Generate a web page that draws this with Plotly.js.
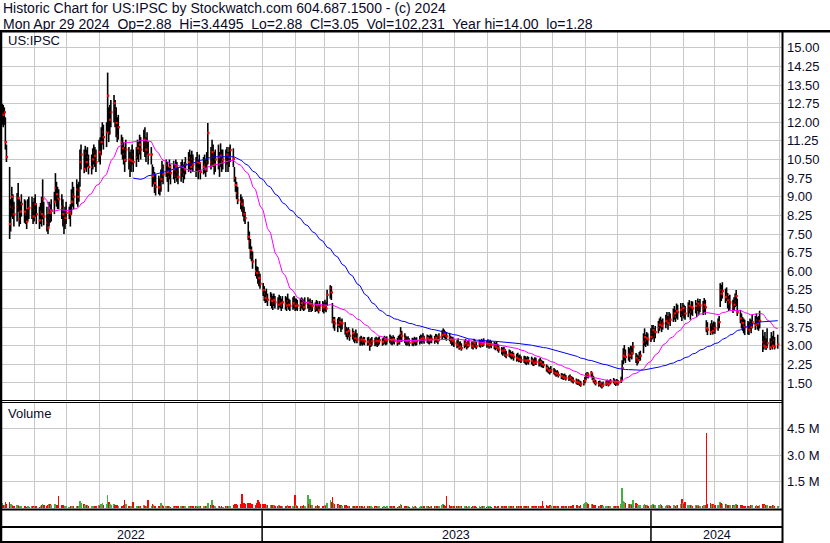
<!DOCTYPE html>
<html><head><meta charset="utf-8">
<script src="https://cdn.plot.ly/plotly-3.0.1.min.js"></script>
<style>html,body{margin:0;padding:0;background:#fff;}#chart{width:830px;height:543px;}</style>
</head><body><div id="chart"></div>
<script>
// ---------------- DATA (daily, weekdays from 2022-05-02, one row per week) ----------------
const firstDay = '2022-05-02';
const closes = [
12.35,12.30,12.40,11.20,10.60, 7.90,8.60,9.00,8.55,8.30, 8.60,8.95,8.10,8.40,8.70, 8.40,8.30,8.00,8.50,8.55,
8.60,8.20,8.45,8.70,8.30, 8.05,8.40,8.30,8.90,8.20, 7.95,7.75,8.40,8.35,8.45, 8.80,9.35,9.10,8.95,8.90,
8.60,8.30,8.00,8.15,8.35, 8.35,8.30,8.80,9.10,9.00, 9.30,9.00,9.25,10.40,10.70, 10.12,10.75,10.40,10.60,10.20,
10.20,10.50,10.80,10.65,10.40, 10.80,10.70,11.20,11.60,11.40, 11.60,13.07,11.60,12.10,12.40, 12.77,12.50,11.97,11.45,11.80,
11.20,10.95,10.72,10.48,10.90, 10.50,10.30,10.45,10.70,10.40, 10.60,10.95,10.80,11.10,10.90, 11.30,11.10,10.90,11.20,10.70,
10.70,9.84,9.90,9.55,9.40, 9.38,9.33,9.70,10.20,9.90, 10.28,10.00,9.80,10.20,9.95, 10.10,9.85,10.20,10.00,9.80,
10.00,10.20,9.90,10.10,10.30, 10.40,10.56,10.20,10.50,10.30, 10.16,10.40,10.10,10.36,10.00, 10.20,10.30,10.10,10.40,11.57,
10.40,10.80,10.70,10.30,10.50, 10.60,10.30,10.65,10.40,10.50, 10.45,10.70,10.35,10.60,10.88, 10.53,9.76,9.47,9.14,8.87,
8.80,8.70,8.47,8.30,8.14, 7.39,7.20,6.85,6.60,6.39, 6.00,5.93,5.80,5.73,5.50, 5.24,5.10,4.92,5.00,4.85,
4.90,4.80,4.70,4.85,4.75, 4.65,4.80,4.70,4.60,4.75, 4.70,4.62,4.80,4.65,4.60, 4.70,4.75,4.60,4.68,4.62,
4.60,4.72,4.65,4.55,4.70, 4.75,4.55,4.68,4.50,4.60, 4.50,4.63,4.55,4.44,4.60, 4.55,4.48,4.60,4.50,5.05,
5.32,5.15,3.95,4.04,3.90, 3.84,4.00,3.95,3.85,3.90, 3.70,3.55,3.45,3.60,3.40, 3.50,3.35,3.30,3.45,3.25,
3.20,3.25,3.15,3.23,3.18, 3.16,3.20,3.05,3.12,3.18, 3.15,3.20,3.12,3.18,3.22, 3.15,3.20,3.25,3.18,3.22,
3.30,3.22,3.18,3.26,3.20, 3.15,3.25,3.20,3.51,3.40, 3.30,3.20,3.15,3.22,3.12, 3.15,3.12,3.20,3.15,3.18,
3.22,3.28,3.25,3.32,3.24, 3.30,3.25,3.22,3.30,3.26, 3.24,3.32,3.28,3.22,3.35, 3.43,3.55,3.48,3.40,3.38,
3.35,3.25,3.15,3.20,3.10, 3.05,3.12,2.95,3.00,2.90, 3.05,3.10,2.98,3.02,3.08, 3.00,2.95,3.10,3.05,2.98,
3.10,3.05,3.12,3.08,3.15, 3.06,3.10,3.02,3.08,3.04, 3.00,2.95,3.02,2.90,2.85, 2.80,2.75,2.82,2.70,2.62,
2.70,2.65,2.58,2.62,2.55, 2.50,2.55,2.45,2.48,2.42, 2.45,2.40,2.35,2.42,2.38, 2.40,2.33,2.30,2.38,2.35,
2.30,2.35,2.28,2.25,2.22, 2.10,2.05,2.00,1.95,2.02, 1.95,1.90,1.85,1.88,1.82, 1.78,1.75,1.72,1.76,1.70,
1.68,1.72,1.66,1.62,1.58, 1.55,1.50,1.52,1.48,1.45, 1.50,1.60,1.75,1.85,1.80, 1.90,1.75,1.62,1.55,1.50,
1.45,1.48,1.42,1.38,1.44, 1.48,1.52,1.46,1.50,1.55, 1.58,1.52,1.48,1.55,1.50, 1.60,2.10,2.60,2.74,2.55,
2.65,2.60,2.80,2.70,2.95, 2.50,2.35,2.42,2.55,2.60, 3.15,3.35,3.20,3.30,3.25, 3.35,3.50,3.63,3.40,3.55,
3.72,3.85,3.96,3.80,3.90, 4.00,4.10,3.92,4.17,4.05, 4.20,4.30,4.16,4.40,4.35, 4.45,4.25,4.52,4.38,4.30,
4.45,4.60,4.37,4.55,4.50, 4.60,4.45,4.70,4.55,4.62, 4.50,4.65,4.55,3.70,3.65, 3.55,3.83,3.60,3.75,3.70,
3.80,3.95,5.24,5.10,5.20, 4.96,5.05,4.84,4.70,4.75, 4.56,4.65,4.80,5.00,4.35, 4.10,3.95,3.91,3.80,3.75,
3.70,3.64,3.85,3.75,3.95, 3.83,4.03,3.90,3.85,4.00, 3.14,3.00,3.20,2.95,3.10, 2.93,3.15,3.00,3.23,2.95,
3.05];
const highs = [
12.75,12.70,12.60,12.20,11.10, 10.20,8.90,9.40,9.10,8.80, 9.15,9.55,8.90,8.80,9.10, 8.90,8.85,8.50,8.90,9.00,
9.00,8.80,8.95,9.10,8.75, 8.60,8.75,9.00,9.70,8.80, 8.60,8.30,8.80,8.70,8.90, 9.20,9.95,9.60,9.40,9.30,
9.10,8.90,8.50,8.60,8.80, 8.60,8.70,9.30,9.60,9.40, 9.70,9.50,9.60,10.90,11.10, 10.90,11.05,10.90,11.00,10.70,
10.70,10.95,11.10,11.00,10.90, 11.30,11.40,11.80,12.00,11.90, 12.00,14.00,12.60,12.70,12.90, 13.10,12.90,12.60,12.20,12.30,
11.50,11.40,11.20,11.00,11.30, 11.00,10.80,10.90,11.10,10.90, 11.00,11.30,11.20,11.50,11.40, 11.70,11.80,11.40,11.60,11.20,
11.00,10.30,10.20,10.00,9.90, 9.85,9.75,10.10,10.45,10.30, 10.50,10.40,10.20,10.50,10.30, 10.45,10.30,10.50,10.40,10.20,
10.40,10.50,10.30,10.40,10.60, 10.80,10.90,10.70,10.85,10.70, 10.60,10.80,10.50,10.70,10.40, 10.60,10.70,10.50,10.80,11.97,
11.00,11.30,11.10,10.80,10.90, 11.10,10.80,11.15,10.90,10.90, 10.90,11.00,10.80,11.00,11.10, 10.95,10.20,9.80,9.60,9.40,
9.10,9.00,8.90,8.60,8.40, 8.00,7.60,7.30,7.00,6.80, 6.50,6.20,6.17,6.00,5.90, 5.53,5.40,5.20,5.30,5.10,
5.16,5.10,5.00,5.10,5.00, 4.95,5.05,5.00,4.90,5.00, 5.00,4.95,5.10,4.90,4.85, 4.95,5.00,4.90,4.90,4.85,
4.90,4.95,4.90,4.85,4.95, 4.95,4.85,4.90,4.75,4.84, 4.75,4.84,4.80,4.70,4.80, 4.80,4.75,4.85,4.75,5.25,
5.44,5.40,4.72,4.16,4.16, 4.10,4.16,4.15,4.05,4.10, 3.95,3.76,3.70,3.75,3.65, 3.70,3.60,3.50,3.65,3.50,
3.36,3.40,3.30,3.36,3.35, 3.34,3.36,3.25,3.30,3.35, 3.32,3.36,3.30,3.34,3.38, 3.30,3.36,3.40,3.35,3.38,
3.45,3.40,3.35,3.42,3.36, 3.32,3.40,3.45,3.75,3.60, 3.50,3.40,3.35,3.38,3.30, 3.32,3.30,3.36,3.32,3.34,
3.40,3.45,3.42,3.50,3.40, 3.45,3.42,3.40,3.46,3.42, 3.40,3.48,3.45,3.38,3.50, 3.62,3.70,3.65,3.58,3.55,
3.52,3.40,3.35,3.36,3.28, 3.22,3.30,3.15,3.18,3.10, 3.22,3.28,3.15,3.20,3.25, 3.18,3.12,3.28,3.22,3.15,
3.25,3.22,3.28,3.24,3.30, 3.22,3.26,3.18,3.24,3.20, 3.16,3.12,3.18,3.08,3.02, 2.95,2.92,2.96,2.88,2.80,
2.85,2.82,2.75,2.78,2.72, 2.68,2.72,2.62,2.65,2.58, 2.60,2.58,2.52,2.58,2.55, 2.56,2.50,2.46,2.54,2.52,
2.46,2.52,2.44,2.40,2.38, 2.25,2.20,2.15,2.10,2.18, 2.10,2.05,1.98,2.02,1.96, 1.90,1.88,1.85,1.88,1.82,
1.80,1.84,1.78,1.75,1.72, 1.68,1.64,1.65,1.60,1.58, 1.62,1.75,1.90,1.94,1.92, 1.98,1.92,1.78,1.68,1.62,
1.58,1.60,1.55,1.50,1.56, 1.60,1.64,1.58,1.62,1.66, 1.70,1.65,1.60,1.66,1.62, 1.75,2.42,2.90,3.03,2.85,
2.95,2.90,3.00,2.98,3.15, 2.71,2.65,2.60,2.75,2.80, 3.50,3.70,3.45,3.55,3.50, 3.70,3.84,3.84,3.70,3.80,
4.00,4.10,4.17,4.05,4.10, 4.25,4.36,4.20,4.36,4.30, 4.50,4.60,4.45,4.70,4.65, 4.72,4.55,4.72,4.65,4.60,
4.75,4.84,4.65,4.80,4.78, 4.84,4.72,4.90,4.80,4.88, 4.80,4.92,4.85,4.03,3.95, 3.90,4.03,3.90,3.98,3.95,
4.10,4.20,5.52,5.45,5.56, 5.30,5.35,5.12,5.00,5.05, 4.85,4.95,5.10,5.24,4.90, 4.44,4.30,4.16,4.10,4.05,
4.00,3.95,4.10,4.05,4.25, 4.20,4.30,4.15,4.20,4.41, 3.64,3.40,3.55,3.30,3.70, 3.30,3.55,3.40,3.60,3.35,
3.4495];
const lows = [
11.90,11.80,11.90,10.90,10.40, 7.30,7.60,8.20,8.10,7.80, 8.00,8.40,7.80,7.90,8.20, 7.95,7.90,7.70,8.00,8.10,
8.10,7.90,8.00,8.20,7.90, 7.70,7.90,7.80,8.10,7.85, 7.60,7.50,7.80,7.95,8.00, 8.30,8.80,8.60,8.50,8.50,
8.10,7.80,7.50,7.70,7.90, 8.10,7.80,8.30,8.60,8.50, 8.70,8.60,8.80,9.40,10.10, 9.95,10.10,10.00,10.20,9.90,
9.90,10.10,10.30,10.20,10.00, 10.40,10.30,10.70,11.10,10.90, 11.00,11.60,11.20,11.50,11.80, 12.00,11.80,11.40,11.20,11.30,
10.70,10.50,10.30,10.00,10.40, 10.10,9.80,10.00,10.30,10.00, 10.20,10.50,10.40,10.70,10.50, 10.80,10.60,10.40,10.70,10.30,
10.30,9.40,9.50,9.15,9.05, 9.10,9.05,9.20,9.60,9.50, 9.80,9.60,9.20,9.70,9.50, 9.70,9.55,9.75,9.60,9.50,
9.60,9.80,9.55,9.70,9.90, 10.00,10.10,9.95,10.10,10.00, 9.80,10.00,9.70,10.00,9.70, 9.90,9.95,9.80,10.00,10.30,
10.10,10.30,10.20,9.90,10.00, 10.10,9.80,10.20,10.00,10.10, 10.00,10.30,10.00,10.20,10.40, 10.20,9.60,9.20,8.90,8.70,
8.50,8.40,8.20,8.00,7.90, 7.26,6.90,6.50,6.40,6.10, 5.80,5.70,5.50,5.40,5.30, 5.00,4.80,4.72,4.75,4.60,
4.60,4.50,4.44,4.60,4.50, 4.45,4.55,4.50,4.40,4.50, 4.45,4.40,4.55,4.45,4.40, 4.45,4.50,4.40,4.45,4.40,
4.40,4.50,4.45,4.40,4.45, 4.50,4.36,4.45,4.36,4.40, 4.36,4.40,4.38,4.30,4.40, 4.35,4.30,4.40,4.35,4.60,
4.90,4.84,3.91,3.70,3.60, 3.55,3.75,3.70,3.55,3.65, 3.45,3.35,3.25,3.35,3.20, 3.25,3.16,3.10,3.20,3.10,
3.00,3.05,3.00,3.05,3.02, 3.00,3.02,2.80,2.95,3.00, 2.98,3.02,2.95,3.00,3.05, 3.00,3.04,3.08,3.02,3.05,
3.10,3.05,3.02,3.08,3.05, 3.00,3.05,3.05,3.20,3.15, 3.10,3.02,3.00,3.05,2.98, 3.00,2.98,3.05,3.00,3.02,
3.05,3.10,3.08,3.15,3.08, 3.12,3.08,3.05,3.12,3.10, 3.08,3.15,3.12,3.06,3.18, 3.25,3.35,3.30,3.23,3.20,
3.18,3.08,3.00,3.02,2.95, 2.90,2.95,2.84,2.86,2.80, 2.90,2.95,2.85,2.90,2.95, 2.88,2.85,2.95,2.92,2.86,
2.95,2.92,2.98,2.95,3.00, 2.92,2.96,2.88,2.94,2.90, 2.86,2.82,2.88,2.78,2.72, 2.65,2.60,2.68,2.55,2.50,
2.55,2.50,2.45,2.48,2.40, 2.36,2.40,2.34,2.35,2.30, 2.30,2.26,2.22,2.28,2.24, 2.25,2.20,2.18,2.24,2.22,
2.16,2.20,2.14,2.12,2.10, 1.96,1.92,1.88,1.84,1.90, 1.84,1.80,1.75,1.78,1.72, 1.66,1.64,1.62,1.65,1.60,
1.58,1.62,1.56,1.52,1.48, 1.45,1.42,1.43,1.38,1.35, 1.40,1.50,1.62,1.70,1.68, 1.75,1.62,1.52,1.45,1.40,
1.35,1.38,1.32,1.28,1.34, 1.38,1.42,1.36,1.40,1.45, 1.48,1.42,1.38,1.45,1.40, 1.50,1.62,2.25,2.40,2.30,
2.40,2.35,2.50,2.45,2.65, 2.30,2.20,2.28,2.38,2.40, 2.70,3.00,2.95,3.05,3.00, 3.15,3.25,3.30,3.15,3.30,
3.50,3.60,3.70,3.55,3.65, 3.70,3.85,3.64,3.90,3.80, 3.96,4.05,3.96,4.10,4.05, 4.15,4.00,4.20,4.10,4.05,
4.15,4.30,4.05,4.25,4.20, 4.30,4.15,4.40,4.25,4.35, 4.24,4.35,4.25,3.55,3.43, 3.43,3.55,3.45,3.50,3.48,
3.60,3.70,4.56,4.80,4.90, 4.72,4.80,4.50,4.40,4.45, 4.32,4.40,4.55,4.60,4.20, 3.91,3.70,3.60,3.50,3.43,
3.45,3.43,3.60,3.50,3.70, 3.64,3.80,3.65,3.60,3.70, 2.75,2.85,2.95,2.83,2.90, 2.83,2.90,2.85,3.00,2.85,
2.88];
const volumesK = [
260,180,150,320,240, 350,200,160,140,120, 150,180,110,90,100, 120,90,80,110,70,
90,100,80,120,90, 80,110,150,200,160, 120,180,200,230,150, 250,220,180,150,700,
160,150,120,100,90, 80,90,110,130,100, 120,100,130,380,260, 220,180,150,160,120,
110,130,140,100,90, 150,120,200,260,180, 200,750,320,200,180, 250,180,160,150,120,
130,140,160,450,200, 120,130,100,110,320, 100,120,90,140,110, 180,130,110,120,460,
120,200,150,130,110, 100,130,300,180,120, 110,90,120,100,80, 90,110,80,100,120,
100,80,90,110,100, 120,90,110,80,100, 90,100,80,120,90, 110,90,100,120,280,
150,450,180,120,100, 90,110,80,100,60, 100,120,90,110,130, 180,250,200,220,180,
220,800,300,260,240, 300,280,260,240,230, 150,300,450,350,200, 220,250,200,180,150,
180,160,140,150,130, 120,150,130,110,140, 130,110,150,120,100, 140,120,750,160,130,
120,130,110,150,120, 750,200,500,180,150, 140,120,160,130,110, 130,110,150,120,300,
450,350,600,280,220, 200,180,160,150,140, 160,150,130,140,120, 130,120,110,140,100,
90,110,100,80,90, 100,90,140,110,80, 90,80,100,90,110, 80,90,100,70,90,
110,90,80,100,90, 80,100,90,220,150, 120,100,90,110,80, 90,80,100,90,70,
60,100,80,110,90, 100,90,80,110,90, 90,110,100,80,130, 180,200,150,130,700,
160,130,120,110,100, 90,110,120,100,110, 100,90,110,80,90, 80,90,100,90,80,
90,80,100,90,110, 80,90,70,100,80, 90,100,80,120,130, 120,110,100,130,140,
110,100,120,100,130, 120,90,110,100,120, 100,110,120,90,100, 90,110,100,80,90,
110,100,120,400,130, 150,140,130,160,120, 130,120,140,110,130, 120,110,130,100,120,
110,130,120,140,150, 160,150,130,140,170, 200,300,320,280,200, 250,220,180,160,150,
140,130,150,170,120, 110,130,120,100,140, 130,120,140,110,120, 200,1150,400,350,300,
250,220,200,180,450, 280,200,150,180,160, 150,250,180,160,140, 160,180,200,150,170,
180,160,200,150,140, 130,150,120,160,140, 150,170,140,180,160, 200,500,300,220,350,
180,160,150,170,140, 150,130,160,140,120, 140,160,150,4270,200, 300,250,200,180,160,
150,170,330,280,250, 220,200,180,170,160, 150,140,160,200,180, 170,160,150,140,130,
120,140,130,150,160, 140,150,130,120,170, 250,200,180,160,150, 140,130,150,160,120,
102];
const priceTicks = [1.5,2.25,3,3.75,4.5,5.25,6,6.75,7.5,8.25,9,9.75,10.5,11.25,12,12.75,13.5,14.25,15];
const volTicks = [1500000,3000000,4500000];
const volTickText = ['1.5 M','3.0 M','4.5 M'];
const yearLabels = ['2022','2023','2024'];
const yearLabelDates = ['2022-08-31','2023-07-02','2024-03-03'];
const yearBreaks = ['2023-01-01','2024-01-01'];
const maShort = 30, maLong = 90;
const header1 = 'Historic Chart for US:IPSC by Stockwatch.com 604.687.1500 - (c) 2024';
const header2 = 'Mon Apr 29 2024\u00a0 Op=2.88\u00a0 Hi=3.4495\u00a0 Lo=2.88\u00a0 Cl=3.05\u00a0 Vol=102,231\u00a0 Year hi=14.00\u00a0 lo=1.28';

// ---------------- build ----------------
function weekdays(start, n){
  const out=[]; let d=new Date(start+'T00:00:00Z');
  while(out.length<n){ const w=d.getUTCDay(); if(w!==0&&w!==6) out.push(d.toISOString().slice(0,10)); d=new Date(d.getTime()+86400000); }
  return out;
}
function sma(arr,n){ return arr.map((v,i)=>{ if(i<n-1) return null; let s=0; for(let j=i-n+1;j<=i;j++) s+=arr[j]; return s/n; }); }
const dates = weekdays(firstDay, closes.length);
// close tick sits on the right edge of each daily bar
const closeDates = dates.map(d=>new Date(new Date(d+'T00:00:00Z').getTime()+0.45*86400000).toISOString().slice(0,19).replace('T',' '));
const volumes = volumesK.map(v=>v*1000);
const volColors = closes.map((c,i)=> (i>0 && c<closes[i-1]) ? '#ff0000' : '#44b044');

const W=830,H=543, L=2, R=782, T=31, B=508;
const px = x => (x-L)/(R-L);
const py = y => (B-y)/(B-T);
const fontFam = 'Liberation Sans, Arial, sans-serif';
const txtCol = '#0a0a28';

// bars then close ticks, drawn in two interleaved layers (even days, then odd days)
function barLayer(parity){
  const idx = dates.map((d,i)=>i).filter(i=>i%2===parity);
  return [
    {type:'scatter', mode:'markers', x:idx.map(i=>dates[i]), y:idx.map(i=>closes[i]), xaxis:'x', yaxis:'y', hoverinfo:'skip',
     marker:{size:1, opacity:0},
     error_y:{type:'data', symmetric:false, array:idx.map(i=>highs[i]-closes[i]), arrayminus:idx.map(i=>closes[i]-lows[i]), color:'#000000', thickness:1.6, width:0}},
    {type:'scatter', mode:'markers', x:idx.map(i=>closeDates[i]), y:idx.map(i=>closes[i]), xaxis:'x', yaxis:'y', hoverinfo:'skip',
     marker:{symbol:'square', size:2.3, color:'#ff0000', line:{width:0}}}
  ];
}
const traces = barLayer(0).concat(barLayer(1)).concat([
  {type:'scatter', mode:'lines', x:dates, y:sma(closes,maShort), xaxis:'x', yaxis:'y', line:{color:'#ff00ff', width:1}, hoverinfo:'skip'},
  {type:'scatter', mode:'lines', x:dates, y:sma(closes,maLong), xaxis:'x', yaxis:'y', line:{color:'#0000ff', width:1}, hoverinfo:'skip'},
  {type:'bar', x:dates, y:volumes, xaxis:'x', yaxis:'y2', marker:{color:volColors, line:{width:0}}, width:1.5*86400000, hoverinfo:'skip'}
]);

const lineShape = (x0,y0,x1,y1,w,xref) => ({type:'line', xref:xref||'paper', yref:'paper', x0:x0, y0:y0, x1:x1, y1:y1, line:{color:'#000', width:w}});
const shapes = [
  lineShape(px(0),py(31.3),px(830),py(31.3),2.5),
  lineShape(px(1),py(31),px(1),py(543),2.5),
  lineShape(px(782.5),py(31),px(782.5),py(543),2),
  lineShape(px(0),py(400.5),px(782),py(400.5),1),
  lineShape(px(0),py(402.5),px(782),py(402.5),1),
  lineShape(px(0),py(509.5),px(782),py(509.5),2),
  lineShape(px(0),py(527),px(782),py(527),2),
  lineShape(px(0),py(542),px(782),py(542),2)
].concat(yearBreaks.map(d=>lineShape(d,py(510.5),d,py(541),1.5,'x')));

const ann = (text,x,y,opts) => Object.assign({text:text, xref:'paper', yref:'paper', x:x, y:y, xanchor:'left', yanchor:'middle', showarrow:false, font:{family:fontFam, size:13, color:txtCol}, borderpad:0}, opts||{});
const hdrFont = {family:fontFam, size:14, color:txtCol};
const annotations = [
  ann(header1, px(2), py(8.2), {font:hdrFont}),
  ann(header2, px(2), py(24), {font:hdrFont}),
  ann('US:IPSC', px(7), py(40.5)),
  ann('Volume', px(7), py(413))
].concat(yearLabels.map((t,i)=>ann(t, yearLabelDates[i], py(534.5), {xref:'x', xanchor:'center', font:{family:fontFam, size:12.5, color:txtCol}})));

const layout = {
  width:W, height:H, margin:{l:L, r:W-R, t:T, b:H-B, pad:0},
  paper_bgcolor:'#ffffff', plot_bgcolor:'#ffffff', showlegend:false, bargap:0,
  font:{family:fontFam, size:13, color:txtCol},
  xaxis:{type:'date', range:['2022-05-01 20:00','2024-05-03'], anchor:'y2', showticklabels:false, ticks:'',
         showgrid:true, gridcolor:'#c8c8c8', gridwidth:1, dtick:'M1', tick0:'2022-01-01', zeroline:false, showline:false},
  yaxis:{domain:[py(400),1], range:[0.815,15.675], side:'right', tickvals:priceTicks, ticktext:priceTicks.map(v=>v.toFixed(2)),
         showgrid:true, gridcolor:'#c8c8c8', gridwidth:1, zeroline:false, showline:false, ticks:'', ticklabelstandoff:4,
         tickfont:{family:fontFam, size:13, color:txtCol}},
  yaxis2:{domain:[0,py(402)], range:[0,6.0e6], side:'right', tickvals:volTicks, ticktext:volTickText,
          showgrid:true, gridcolor:'#c8c8c8', gridwidth:1, zeroline:false, showline:false, ticks:'', ticklabelstandoff:4,
          tickfont:{family:fontFam, size:13, color:txtCol}},
  shapes:shapes, annotations:annotations
};
Plotly.newPlot('chart', traces, layout, {staticPlot:true, displayModeBar:false});
</script></body></html>
